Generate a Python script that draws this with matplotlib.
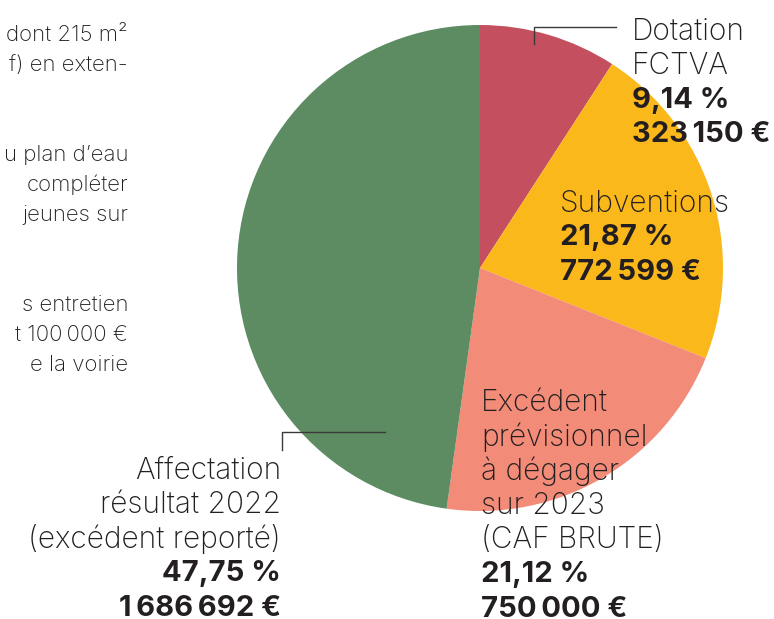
import matplotlib
matplotlib.use('Agg')

import matplotlib.pyplot as plt

# Données du graphique (répartition des recettes)
labels = ['Dotation\nFCTVA', 'Subventions',
          'Excédent\nprévisionnel\nà dégager\nsur 2023\n(CAF BRUTE)',
          'Affectation\nrésultat 2022\n(excédent reporté)']
pourcents = [9.14, 21.87, 21.12, 47.75]
montants = ['323\u2009150 €', '772\u2009599 €', '750\u2009000 €', '1\u2009686\u2009692 €']
couleurs = ['#c4505f', '#fbb81b', '#f28b78', '#5d8c62']

# Texte courant coupé à gauche (page du bulletin)
texte_gauche = ['dont 215 m²', 'f) en exten-', '', '', 'u plan d\u2019eau',
                'compléter', 'jeunes sur', '', '', 's entretien',
                't 100\u2009000 €', 'e la voirie']

W, H = 774, 619
fig = plt.figure(figsize=(W / 100, H / 100), dpi=100)
ax = fig.add_axes([0, 0, 1, 1])

plt.rcParams['font.family'] = ['Inter', 'DejaVu Sans']
encre = '#231f20'

ax.pie(pourcents, colors=couleurs, startangle=90, counterclock=False,
       center=(480, H - 268), radius=243, frame=True,
       wedgeprops=dict(linewidth=0))
ax.set_xlim(0, W)
ax.set_ylim(0, H)
ax.set_aspect('equal')
ax.axis('off')

def fmt(p):
    return f'{p:.2f}'.replace('.', ',') + ' %'

# position (x, y du haut en px, alignement) de chaque bloc d'étiquette
pos = [(632, 14, 'left'), (560, 186, 'left'), (481, 385, 'left'), (281, 453, 'right')]
interligne = 34.5
for lab, p, m, (x, y0, ha) in zip(labels, pourcents, montants, pos):
    lignes = lab.split('\n')
    for i, l in enumerate(lignes):
        ax.text(x, H - (y0 + interligne * (i + 0.5)), l, fontsize=21.5, ha=ha,
                va='center', color=encre, fontweight='light')
    n = len(lignes)
    ax.text(x, H - (y0 + interligne * (n + 0.5)), fmt(p), fontsize=21, ha=ha,
            va='center', color=encre, fontweight='bold')
    ax.text(x, H - (y0 + interligne * (n + 1.5)), m, fontsize=21, ha=ha,
            va='center', color=encre, fontweight='bold')

# traits de rappel
ax.plot([534, 534, 616], [H - 44, H - 27, H - 27], color='#3a3a3a', lw=1)
ax.plot([282, 282, 385], [H - 450, H - 432, H - 432], color='#3a3a3a', lw=1)

for i, l in enumerate(texte_gauche):
    if l:
        ax.text(128, H - (35 + 30 * i), l, fontsize=16, ha='right', va='center',
                color=encre, fontweight='light')

fig.savefig('out.png', dpi=100)
